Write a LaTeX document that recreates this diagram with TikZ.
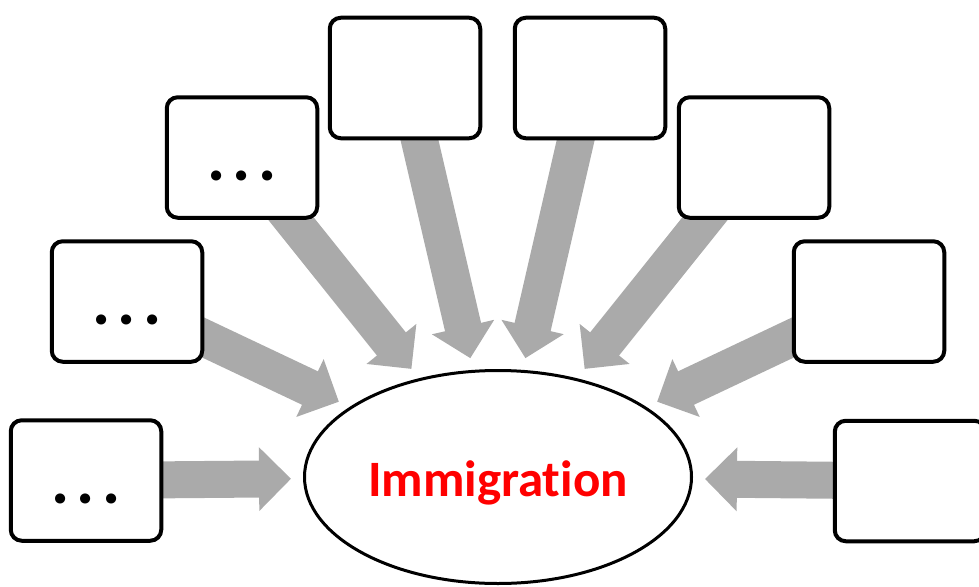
\documentclass[tikz,border=0pt]{standalone}
\usepackage{fontspec}
\setmainfont{Carlito}[Ligatures=NoCommon]
\usetikzlibrary{arrows.meta}
\usetikzlibrary{shapes.geometric}
\usetikzlibrary{backgrounds}
\definecolor{flowgray}{RGB}{170,170,170}
\definecolor{immred}{RGB}{255,0,0}
\newcommand{\moredots}{{\fontsize{68}{70}\selectfont .\kern7pt.\kern7pt.}}

\begin{document}
\begin{tikzpicture}[x=1pt, y=-1pt,
  factor/.style={draw, line width=4pt, rounded corners=11pt, fill=white,
    minimum width=150.5pt, minimum height=120.5pt, inner sep=0pt, outer sep=0pt,
    font=\bfseries, text height=46pt, text depth=0pt},
  flow/.style={flowgray, line width=37pt, -{Triangle[width=62pt, length=32pt]}, shorten >=12pt}]
  \useasboundingbox (0, 0) rectangle (979, 586);
  \clip (0, 0) rectangle (979, 586);

  % 中心椭圆
  \node[ellipse, draw, line width=3pt, minimum width=387pt, minimum height=213pt,
    inner sep=0pt, text=immred, font=\bfseries\fontsize{51}{60}\selectfont,
    text height=38pt, text depth=0pt] (imm) at (498, 477) {Immigration};

  % 左侧方框
  \node[factor] (f1) at (86, 480.5) {\moredots};
  \node[factor] (f2) at (127, 301.5) {\moredots};
  \node[factor] (f3) at (242, 157.5) {\moredots};
  \node[factor] (f4) at (405, 78) {};

  % 右侧方框
  \node[factor] (f5) at (590, 78) {};
  \node[factor] (f6) at (754, 157.5) {};
  \node[factor] (f7) at (869, 301.5) {};
  \node[factor] (f8) at (910, 481) {};

  % 灰色粗箭头 (置于方框下方)
  \begin{scope}[on background layer]
    \foreach \f in {f1, f2, f3, f4, f5, f6, f7, f8}
      \draw[flow] (\f.center) -- (imm);
  \end{scope}
\end{tikzpicture}
\end{document}
